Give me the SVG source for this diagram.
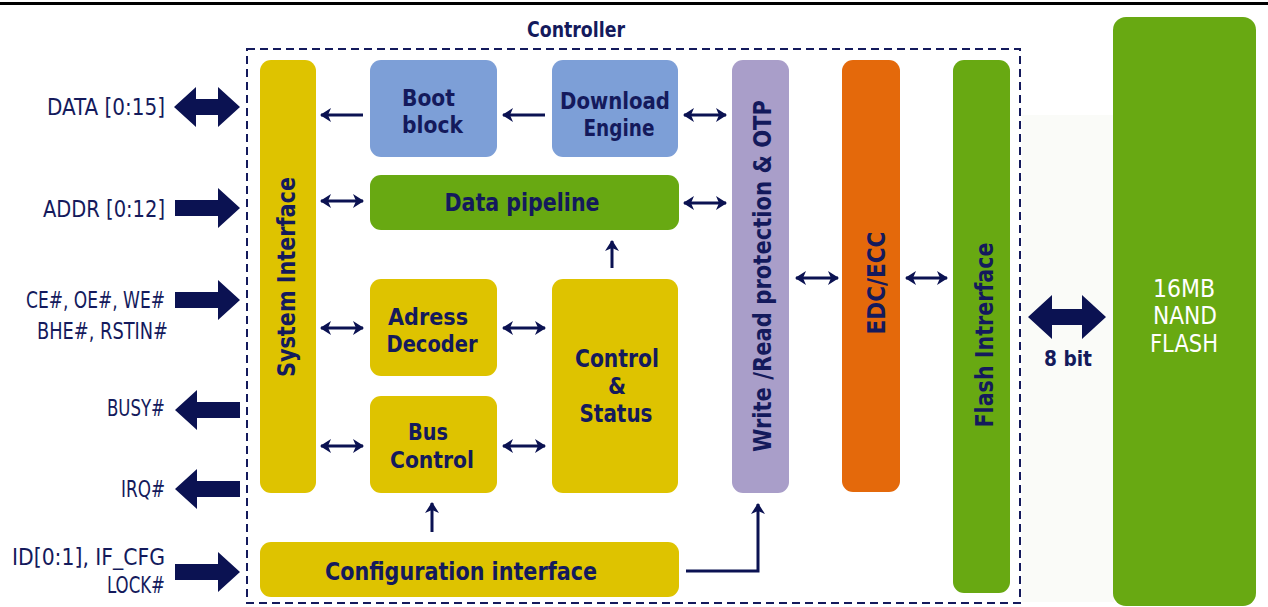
<svg xmlns="http://www.w3.org/2000/svg" width="1268" height="607" viewBox="0 0 1268 607">
<style>
  .lbl { font-family: "DejaVu Sans Condensed", "DejaVu Sans", "Liberation Sans", sans-serif; font-stretch: condensed; font-weight: bold; fill: #141a5c; }
  .ext { font-size: 23px; font-weight: normal; text-anchor: end; }
  .box { font-size: 25px; }
  .two { font-size: 23px; }
  .mid { text-anchor: middle; }
  .wht { fill: #ffffff; font-weight: normal; font-size: 24px; }
  .yel { fill: #dec300; }
  .blu { fill: #7d9fd7; }
  .grn { fill: #68a912; }
  .pur { fill: #a99ec9; }
  .org { fill: #e4690b; }
  .big { fill: #0b1252; }
  .thin { stroke: #0b1252; stroke-width: 3; fill: none; }
</style>
<defs>
  <marker id="ah" markerUnits="userSpaceOnUse" markerWidth="12" markerHeight="14" refX="10" refY="7" orient="auto-start-reverse" viewBox="0 0 12 14">
    <path d="M0,0 L11,7 L0,14 L3,7 Z" fill="#0b1252"/>
  </marker>
  <path id="dbl" d="M0,0 L22,-20 L22,-8 L44,-8 L44,-20 L66,0 L44,20 L44,8 L22,8 L22,20 Z"/>
  <path id="rgt" d="M0,-8 L43,-8 L43,-20 L65,0 L43,20 L43,8 L0,8 Z"/>
  <path id="lft" d="M65,-8 L22,-8 L22,-20 L0,0 L22,20 L22,8 L65,8 Z"/>
</defs>
<rect width="1268" height="607" fill="#ffffff"/>
<rect x="0" y="2" width="1268" height="3" fill="#000000"/>
<rect x="1022" y="115" width="92" height="487" fill="#fafbf8"/>

<g id="controller">
  <rect x="247" y="49" width="773" height="554" fill="none" stroke="#141a5c" stroke-width="2" stroke-dasharray="8,5"/>
  <text class="lbl mid" x="576" y="37" font-size="22" textLength="98" lengthAdjust="spacingAndGlyphs">Controller</text>
</g>

<g id="system-interface">
  <rect class="yel" x="260" y="60" width="56" height="433" rx="11"/>
  <text class="lbl box mid" transform="translate(295,277) rotate(-90)" textLength="200" lengthAdjust="spacingAndGlyphs">System Interface</text>
</g>
<g id="boot-block">
  <rect class="blu" x="370" y="60" width="127" height="97" rx="11"/>
  <text class="lbl two" x="402" y="106" textLength="53" lengthAdjust="spacingAndGlyphs">Boot</text>
  <text class="lbl two" x="402" y="133" textLength="61" lengthAdjust="spacingAndGlyphs">block</text>
</g>
<g id="download-engine">
  <rect class="blu" x="552" y="60" width="126" height="97" rx="11"/>
  <text class="lbl two mid" x="615" y="109" textLength="110" lengthAdjust="spacingAndGlyphs">Download</text>
  <text class="lbl two mid" x="619" y="136" textLength="71" lengthAdjust="spacingAndGlyphs">Engine</text>
</g>
<g id="data-pipeline">
  <rect class="grn" x="370" y="175" width="309" height="55" rx="11"/>
  <text class="lbl box mid" x="522" y="211" textLength="155" lengthAdjust="spacingAndGlyphs">Data pipeline</text>
</g>
<g id="adress-decoder">
  <rect class="yel" x="370" y="279" width="127" height="97" rx="11"/>
  <text class="lbl two mid" x="428" y="325" textLength="80" lengthAdjust="spacingAndGlyphs">Adress</text>
  <text class="lbl two mid" x="432" y="352" textLength="91" lengthAdjust="spacingAndGlyphs">Decoder</text>
</g>
<g id="bus-control">
  <rect class="yel" x="370" y="396" width="127" height="97" rx="11"/>
  <text class="lbl two mid" x="428" y="440" textLength="40" lengthAdjust="spacingAndGlyphs">Bus</text>
  <text class="lbl two mid" x="432" y="468" textLength="84" lengthAdjust="spacingAndGlyphs">Control</text>
</g>
<g id="control-status">
  <rect class="yel" x="552" y="279" width="126" height="214" rx="11"/>
  <text class="lbl box mid" x="617" y="367" textLength="84" lengthAdjust="spacingAndGlyphs">Control</text>
  <text class="lbl two mid" x="617" y="394">&amp;</text>
  <text class="lbl box mid" x="616" y="422" textLength="73" lengthAdjust="spacingAndGlyphs">Status</text>
</g>
<g id="configuration-interface">
  <rect class="yel" x="260" y="542" width="419" height="55" rx="11"/>
  <text class="lbl box mid" x="461" y="580" textLength="272" lengthAdjust="spacingAndGlyphs">Configuration interface</text>
</g>
<g id="write-read-protection">
  <rect class="pur" x="732" y="60" width="57" height="433" rx="11"/>
  <text class="lbl box mid" transform="translate(771,276) rotate(-90)" textLength="352" lengthAdjust="spacingAndGlyphs">Write /Read protection &amp; OTP</text>
</g>
<g id="edc-ecc">
  <rect class="org" x="842" y="60" width="58" height="432" rx="11"/>
  <text class="lbl box mid" transform="translate(885,283) rotate(-90)" textLength="103" lengthAdjust="spacingAndGlyphs">EDC/ECC</text>
</g>
<g id="flash-interface">
  <rect class="grn" x="953" y="60" width="57" height="533" rx="11"/>
  <text class="lbl box mid" transform="translate(993,335) rotate(-90)" textLength="185" lengthAdjust="spacingAndGlyphs">Flash Intrerface</text>
</g>
<g id="nand-flash">
  <rect class="grn" x="1113" y="17" width="143" height="589" rx="13"/>
  <text class="lbl wht mid" x="1184" y="297" textLength="62" lengthAdjust="spacingAndGlyphs">16MB</text>
  <text class="lbl wht mid" x="1185" y="324" textLength="64" lengthAdjust="spacingAndGlyphs">NAND</text>
  <text class="lbl wht mid" x="1184" y="352" textLength="68" lengthAdjust="spacingAndGlyphs">FLASH</text>
</g>

<g id="external-signals">
  <text class="lbl ext" x="165" y="115" textLength="118" lengthAdjust="spacingAndGlyphs">DATA [0:15]</text>
  <text class="lbl ext" x="165" y="217" textLength="122" lengthAdjust="spacingAndGlyphs">ADDR [0:12]</text>
  <text class="lbl ext" x="165" y="308" textLength="139" lengthAdjust="spacingAndGlyphs">CE#, OE#, WE#</text>
  <text class="lbl ext" x="168" y="339" textLength="131" lengthAdjust="spacingAndGlyphs">BHE#, RSTIN#</text>
  <text class="lbl ext" x="165" y="416" textLength="58" lengthAdjust="spacingAndGlyphs">BUSY#</text>
  <text class="lbl ext" x="165" y="497" textLength="44" lengthAdjust="spacingAndGlyphs">IRQ#</text>
  <text class="lbl ext" x="165" y="565" textLength="153" lengthAdjust="spacingAndGlyphs">ID[0:1], IF_CFG</text>
  <text class="lbl ext" x="165" y="593" textLength="58" lengthAdjust="spacingAndGlyphs">LOCK#</text>
  <text class="lbl mid" x="1068" y="366" font-size="22" textLength="48" lengthAdjust="spacingAndGlyphs">8 bit</text>
</g>

<g id="connectors">
  <use href="#dbl" class="big" transform="translate(174,107)"/>
  <use href="#rgt" class="big" transform="translate(175,208)"/>
  <use href="#rgt" class="big" transform="translate(175,300)"/>
  <use href="#lft" class="big" transform="translate(175,410)"/>
  <use href="#lft" class="big" transform="translate(175,489)"/>
  <use href="#rgt" class="big" transform="translate(175,572)"/>
  <path class="big" d="M1028,317 L1052,295 L1052,309 L1082,309 L1082,295 L1106,317 L1082,339 L1082,325 L1052,325 L1052,339 Z"/>

  <path class="thin" d="M363,115 L321,115" marker-end="url(#ah)"/>
  <path class="thin" d="M545,115 L503,115" marker-end="url(#ah)"/>
  <path class="thin" d="M684,115 L726,115" marker-start="url(#ah)" marker-end="url(#ah)"/>
  <path class="thin" d="M321,201 L363,201" marker-start="url(#ah)" marker-end="url(#ah)"/>
  <path class="thin" d="M684,203 L726,203" marker-start="url(#ah)" marker-end="url(#ah)"/>
  <path class="thin" d="M612,268 L612,241" marker-end="url(#ah)"/>
  <path class="thin" d="M321,328 L363,328" marker-start="url(#ah)" marker-end="url(#ah)"/>
  <path class="thin" d="M503,328 L545,328" marker-start="url(#ah)" marker-end="url(#ah)"/>
  <path class="thin" d="M321,446 L363,446" marker-start="url(#ah)" marker-end="url(#ah)"/>
  <path class="thin" d="M503,446 L545,446" marker-start="url(#ah)" marker-end="url(#ah)"/>
  <path class="thin" d="M432,532 L432,503" marker-end="url(#ah)"/>
  <path class="thin" d="M686,571 L758,571 L758,504" marker-end="url(#ah)"/>
  <path class="thin" d="M796,278 L838,278" marker-start="url(#ah)" marker-end="url(#ah)"/>
  <path class="thin" d="M906,278 L947,278" marker-start="url(#ah)" marker-end="url(#ah)"/>
</g>
</svg>
